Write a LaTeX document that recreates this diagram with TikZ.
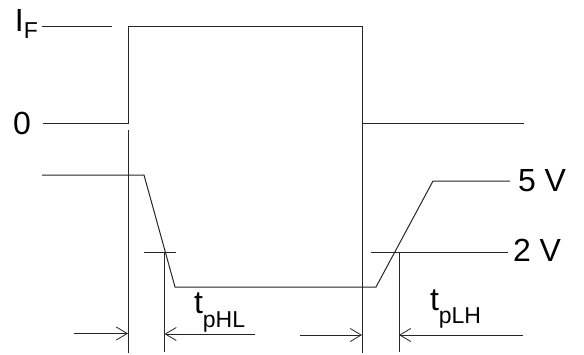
\documentclass[tikz,border=0pt]{standalone}
\usepackage{fontspec}
\setmainfont{Liberation Sans}
\usetikzlibrary{arrows.meta}
\newcommand{\subtxt}[2]{\raisebox{#1}{\fontsize{23}{23}\selectfont #2}}
\tikzset{
  wire/.style={draw=black!85,line width=1pt},
  dimarrow/.style={wire,-{Straight Barb[length=11pt,width=13pt,line width=0.8pt]}},
  lbl/.style={anchor=base west,inner sep=0pt,outer sep=0pt,font=\fontsize{32}{32}\selectfont}
}
\begin{document}
\begin{tikzpicture}[x=1pt,y=-1pt]
\useasboundingbox (0,0) rectangle (584,354);
\fill[white] (0,0) rectangle (584,354);
\node[lbl] (iflabel) at (15,31) {I\subtxt{-7pt}{F}};
\node[lbl] (zero) at (13,134) {0};
\node[lbl] (fivev) at (518,191) {5 V};
\node[lbl] (twov) at (513,261) {2 V};
\node[lbl] (tphl) at (194,313) {t\subtxt{-14pt}{pHL}};
\node[lbl] (tplh) at (430,310) {t\subtxt{-13pt}{pLH}};
% input pulse
\draw[wire] (42,26) -- (112,26);
\draw[wire] (43,123) -- (128,123) -- (128,26) -- (362,26) -- (362,123) -- (524,123);
% output waveform
\draw[wire] (42,175) -- (144,175) -- (175,287) -- (376,287) -- (433,181) -- (510,181);
% thresholds
\draw[wire] (144,252) -- (176,252);
\draw[wire] (371,252) -- (508,252);
% time markers
\draw[wire] (128,130) -- (128,353);
\draw[wire] (362,123) -- (362,353);
\draw[wire] (164.5,252) -- (164.5,352);
\draw[wire] (399,252) -- (399,352);
% dimension arrows
\draw[dimarrow] (74,333.5) -- (128,333.5);
\draw[dimarrow] (255,334) -- (164.5,334);
\draw[dimarrow] (300,335) -- (362,335);
\draw[dimarrow] (523,335) -- (399,335);
\end{tikzpicture}
\end{document}
